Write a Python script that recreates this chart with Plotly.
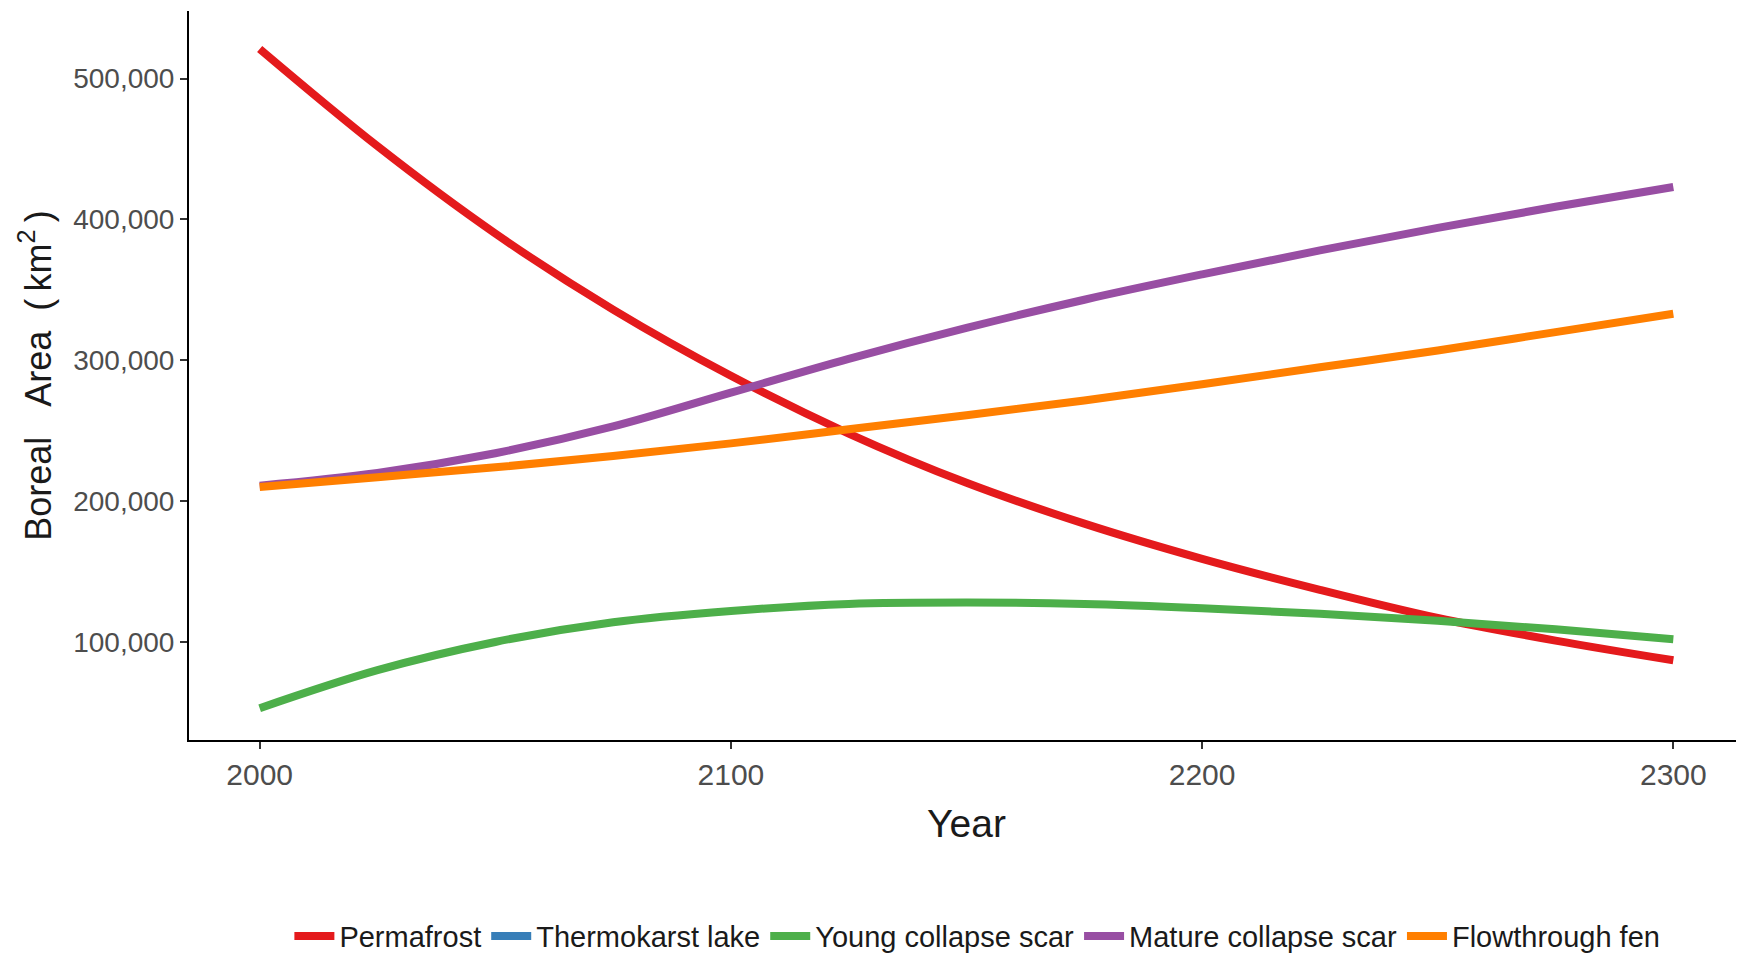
import plotly.graph_objects as go

years = [2000, 2025, 2050, 2075, 2100, 2125, 2150, 2175, 2200, 2225, 2250, 2275, 2300]
permafrost = [521000, 452000, 390000, 336000, 289000, 248000, 213000, 184000, 159000, 137000, 117000, 101000, 87000]
thermokarst_lake = []
young_scar = [53000, 80000, 100000, 114000, 122000, 127000, 128000, 127000, 124000, 120000, 115000, 109000, 102000]
mature_scar = [211000, 220000, 234000, 253000, 277000, 301000, 323000, 343000, 361000, 378000, 394000, 409000, 423000]
fen = [210000, 217000, 224000, 232000, 241000, 251000, 261000, 271500, 283000, 295000, 307000, 320000, 333000]

series_names = ["Permafrost", "Thermokarst lake", "Young collapse scar", "Mature collapse scar", "Flowthrough fen"]
colors = ["#E41A1C", "#377EB8", "#4DAF4A", "#984EA3", "#FF7F00"]

x_ticks = [2000, 2100, 2200, 2300]
y_ticks = [100000, 200000, 300000, 400000, 500000]

FONT = "Liberation Sans, Arial, sans-serif"

fig = go.Figure()
data = [permafrost, thermokarst_lake, young_scar, mature_scar, fen]
for name, vals, col in zip(series_names, data, colors):
    if vals:
        fig.add_trace(go.Scatter(x=years, y=vals, mode="lines", name=name,
                                 line=dict(color=col, width=8, shape="spline", smoothing=1.0)))
    else:
        fig.add_trace(go.Scatter(x=[years[0]], y=[None], mode="lines", name=name,
                                 line=dict(color=col, width=8)))

# page body has an 8px margin, so the figure is sized to fit the 1744x954 window
fig.update_layout(
    width=1736, height=946,
    paper_bgcolor="white", plot_bgcolor="white",
    margin=dict(l=181, r=0, t=3, b=214, autoexpand=False),
    showlegend=True,
    legend=dict(orientation="h", x=0.507, xanchor="center", y=-0.269, yanchor="middle",
                font=dict(family=FONT, size=29, color="#1a1a1a"),
                itemwidth=40, tracegroupgap=0),
    font=dict(family=FONT),
)
fig.update_xaxes(range=[1985, 2315], tickvals=x_ticks, ticks="outside", ticklen=7, tickwidth=2,
                 tickcolor="#333333", showline=True, linecolor="black", linewidth=2,
                 showgrid=False, zeroline=False, automargin=False,
                 tickfont=dict(family=FONT, size=30, color="#4D4D4D"),
                 title=dict(text="Year", font=dict(family=FONT, size=39, color="#1a1a1a"), standoff=20))
fig.update_yaxes(range=[30400, 548000], tickvals=y_ticks, tickformat=",d", ticks="outside", ticklen=7,
                 tickwidth=2, tickcolor="#333333", showline=True, linecolor="black", linewidth=2,
                 showgrid=False, zeroline=False, automargin=False,
                 tickfont=dict(family=FONT, size=28, color="#4D4D4D"),
                 title=dict(text="Boreal\u00a0\u00a0\u00a0Area\u00a0\u00a0(\u2009km<sup>2</sup>\u2009)",
                            font=dict(family=FONT, size=36, color="#1a1a1a"), standoff=11))

fig.write_html("out.html")
